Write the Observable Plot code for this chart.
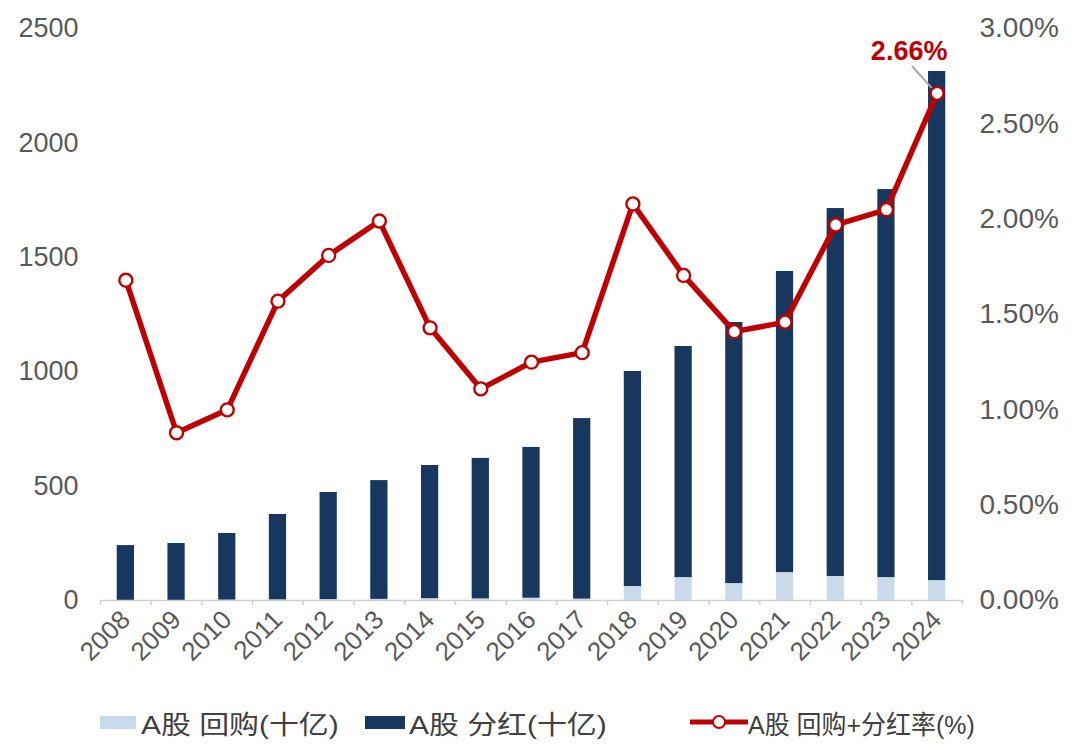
<!DOCTYPE html>
<html><head><meta charset="utf-8">
<script src="https://cdn.jsdelivr.net/npm/d3@7"></script>
<script src="https://cdn.jsdelivr.net/npm/@observablehq/plot@0.6"></script>
<style>
body{margin:0;background:#fff;font-family:"Liberation Sans","Noto Sans CJK SC",sans-serif;}
#legend{position:relative;height:64px;font-size:26px;color:#404040;font-family:"Liberation Sans","Noto Sans CJK SC",sans-serif;}
.item{position:absolute;top:0;height:64px;display:flex;align-items:center;white-space:nowrap;}
.txt{display:inline-block;transform-origin:left center;}
</style></head>
<body><div id="chart"></div>
<div id="legend">
 <div class="item" style="left:100px;"><span style="display:inline-block;width:36px;height:13px;background:#c9daea;margin-right:5px"></span><span class="txt" style="transform:scaleX(1.15)">A股 回购(十亿)</span></div>
 <div class="item" style="left:365px;"><span style="display:inline-block;width:40px;height:13px;background:#17375e;margin-right:4px"></span><span class="txt" style="transform:scaleX(1.15)">A股 分红(十亿)</span></div>
 <div class="item" style="left:690px;"><svg width="58" height="18"><line x1="0" y1="9" x2="58" y2="9" stroke="#c00000" stroke-width="5"/><circle cx="29" cy="9" r="6" fill="#fff" stroke="#c00000" stroke-width="2"/></svg><span class="txt" style="transform:scaleX(0.96)">A股 回购+分红率(%)</span></div>
</div>
<script>
const years = ["2008","2009","2010","2011","2012","2013","2014","2015","2016","2017","2018","2019","2020","2021","2022","2023","2024"];
const buyback = [1,1,2,3,4,5,8,7,10,6,61,100,74,122,105,100,87];
const dividend = [239,248,291,373,468,519,582,614,659,789,940,1010,1141,1316,1608,1696,2225];
const ratio = [1.68,0.88,1.00,1.57,1.81,1.99,1.43,1.11,1.25,1.30,2.08,1.705,1.41,1.46,1.97,2.05,2.66];
const leftTicks = [0,500,1000,1500,2000,2500];
const rightTicks = [0,0.5,1,1.5,2,2.5,3];

const yMax = 2500, pMax = 3;
const toY = p => p / pMax * yMax;

const bars = [];
years.forEach((y,i)=>{
  bars.push({year:y, series:"A股 回购(十亿)", value:buyback[i]});
  bars.push({year:y, series:"A股 分红(十亿)", value:dividend[i]});
});
const line = years.map((y,i)=>({year:y, pct:ratio[i]}));
const last = line[line.length-1];

const W = 1080, mL = 100, mR = 118;
const bw = (W - mL - mR) / years.length;

const leader = {draw(context, l){ context.moveTo(0,0); context.lineTo(0,-l); }};

const chart = Plot.plot({
  width: W, height: 690,
  marginLeft: mL, marginRight: mR, marginTop: 28, marginBottom: 90,
  style:{fontFamily:'"Liberation Sans","Noto Sans CJK SC",sans-serif', fontSize:"26px", color:"#595959", overflow:"visible"},
  x:{domain:years, paddingInner:0.66, paddingOuter:0.33, round:false, label:null},
  y:{domain:[0,yMax], label:null},
  color:{domain:["A股 回购(十亿)","A股 分红(十亿)"], range:["#c9daea","#17375e"]},
  marks:[
    Plot.ruleY([0],{stroke:"#d0d0d0", strokeWidth:1.5}),
    Plot.ruleX(years,{x:d=>d, y1:0, y2:-22, dx:-bw/2, stroke:"#d0d0d0", strokeWidth:1.5}),
    Plot.ruleX([years[years.length-1]],{x:d=>d, y1:0, y2:-22, dx:bw/2, stroke:"#d0d0d0", strokeWidth:1.5}),
    Plot.barY(bars,{x:"year", y:"value", fill:"series", order:null}),
    Plot.axisY(leftTicks,{anchor:"left", tickSize:0, tickPadding:22, fontSize:27, fill:"#595959", tickFormat:d=>String(d), label:null}),
    Plot.axisY(rightTicks.map(toY),{anchor:"right", tickSize:0, tickPadding:17, fontSize:28, fill:"#595959", tickFormat:d=>(d/yMax*pMax).toFixed(2)+"%", label:null}),
    Plot.axisX({tickSize:0, tickRotate:-45, tickPadding:15, fontSize:26, fill:"#595959", label:null}),
    Plot.line(line,{x:"year", y:d=>toY(d.pct), stroke:"#c00000", strokeWidth:5.5}),
    Plot.vector([last],{x:"year", y:d=>toY(d.pct), length:28, rotate:-42, anchor:"start", shape:leader, dx:-6, dy:-6, stroke:"#aaaaaa", strokeWidth:2}),
    Plot.dot(line,{x:"year", y:d=>toY(d.pct), r:6.5, fill:"#fff", stroke:"#c00000", strokeWidth:2.4}),
    Plot.text([last],{x:"year", y:d=>toY(d.pct), text:d=>d.pct.toFixed(2)+"%", dx:-28, dy:-42, fill:"#c00000", fontWeight:"bold", fontSize:27})
  ]
});
document.getElementById("chart").appendChild(chart);
</script>
</body></html>
